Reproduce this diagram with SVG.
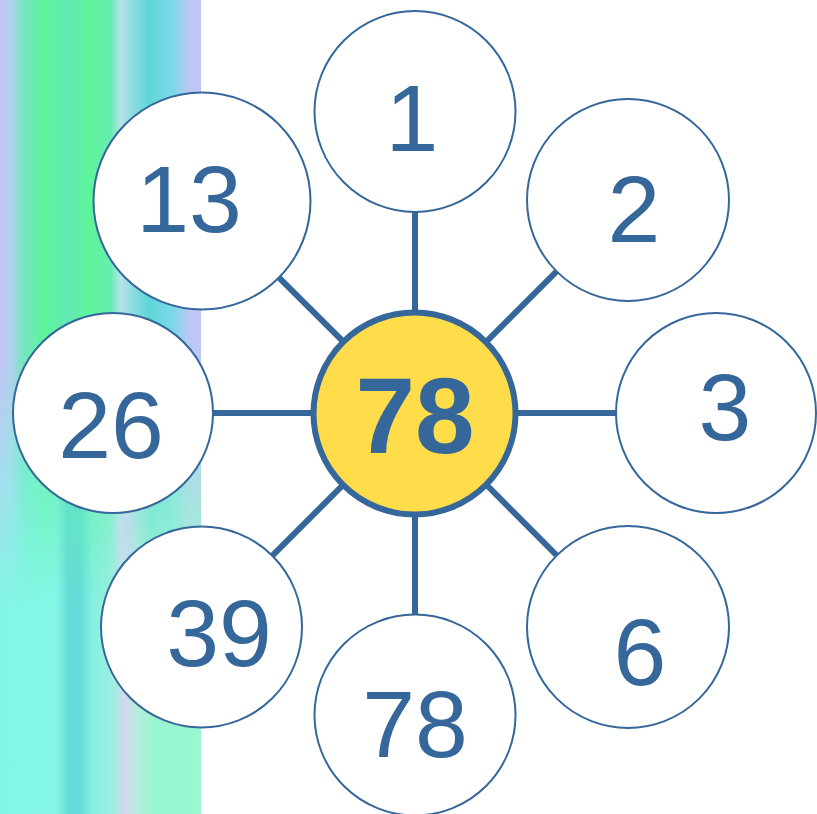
<svg xmlns="http://www.w3.org/2000/svg" width="817" height="814" viewBox="0 0 817 814">
<defs>
<linearGradient id="stripTop" x1="0" y1="0" x2="201" y2="0" gradientUnits="userSpaceOnUse">
<stop offset="0" stop-color="#c2c6f6"/>
<stop offset="0.05" stop-color="#b4d0ee"/>
<stop offset="0.12" stop-color="#74e6c0"/>
<stop offset="0.22" stop-color="#5cf59c"/>
<stop offset="0.34" stop-color="#64e8b4"/>
<stop offset="0.44" stop-color="#5df59a"/>
<stop offset="0.55" stop-color="#66ecb0"/>
<stop offset="0.6" stop-color="#b6e4ea"/>
<stop offset="0.66" stop-color="#8edce2"/>
<stop offset="0.74" stop-color="#5ed6d8"/>
<stop offset="0.86" stop-color="#7cd8e8"/>
<stop offset="0.94" stop-color="#bcc8f6"/>
<stop offset="1" stop-color="#c0c6f6"/>
</linearGradient>
<linearGradient id="stripBot" x1="0" y1="0" x2="201" y2="0" gradientUnits="userSpaceOnUse">
<stop offset="0" stop-color="#82f6e4"/>
<stop offset="0.28" stop-color="#86f6e8"/>
<stop offset="0.34" stop-color="#66dcd8"/>
<stop offset="0.4" stop-color="#64dcdc"/>
<stop offset="0.46" stop-color="#86f0e2"/>
<stop offset="0.56" stop-color="#9eeee0"/>
<stop offset="0.62" stop-color="#d0d8f0"/>
<stop offset="0.68" stop-color="#b8ecdc"/>
<stop offset="0.76" stop-color="#98f6d0"/>
<stop offset="1" stop-color="#98f8d0"/>
</linearGradient>
<linearGradient id="fade" x1="0" y1="0" x2="0" y2="814" gradientUnits="userSpaceOnUse">
<stop offset="0.45" stop-color="#fff" stop-opacity="0"/>
<stop offset="0.75" stop-color="#fff" stop-opacity="1"/>
</linearGradient>
<mask id="fadeMask">
<rect x="0" y="0" width="201" height="814" fill="url(#fade)"/>
</mask>
</defs>
<style>
.node circle{fill:#ffffff;stroke:#35679a;stroke-width:2}
.node text{font-family:"Liberation Sans",Arial,sans-serif;font-size:95px;fill:#35679a;text-anchor:middle}
#center circle{fill:#fedc4a;stroke:#35679a;stroke-width:6}
#center text{font-weight:bold;font-size:107px}
#connectors line{stroke:#35679a;stroke-width:6}
</style>
<rect x="0" y="0" width="817" height="814" fill="#ffffff"/>
<g id="background">
<rect x="0" y="0" width="201" height="814" fill="url(#stripTop)"/>
<rect x="0" y="0" width="201" height="814" fill="url(#stripBot)" mask="url(#fadeMask)"/>
</g>
<g id="connectors">
<line x1="415" y1="413" x2="415" y2="111"/>
<line x1="415" y1="413" x2="628" y2="200"/>
<line x1="415" y1="413" x2="716" y2="413"/>
<line x1="415" y1="413" x2="628" y2="627"/>
<line x1="415" y1="413" x2="415" y2="715"/>
<line x1="415" y1="413" x2="201" y2="627"/>
<line x1="415" y1="413" x2="113" y2="413"/>
<line x1="415" y1="413" x2="202" y2="201"/>
</g>
<g id="n1" class="node"><circle cx="415" cy="111.5" r="100.5"/><text x="412" y="151">1</text></g>
<g id="n2" class="node"><circle cx="628" cy="200" r="101"/><text x="634" y="242">2</text></g>
<g id="n3" class="node"><circle cx="716" cy="413" r="100"/><text x="725" y="440">3</text></g>
<g id="n6" class="node"><circle cx="628" cy="627" r="101"/><text x="640" y="685">6</text></g>
<g id="n78" class="node"><circle cx="415" cy="715" r="100.5"/><text x="415" y="757">78</text></g>
<g id="n39" class="node"><circle cx="201.5" cy="627" r="100.5"/><text x="219" y="666">39</text></g>
<g id="n26" class="node"><circle cx="113" cy="413" r="100"/><text x="111" y="458">26</text></g>
<g id="n13" class="node"><circle cx="202" cy="201" r="108.5"/><text x="189" y="232">13</text></g>
<g id="center" class="node"><circle cx="414.5" cy="413.5" r="101"/><text x="415" y="453">78</text></g>
</svg>
